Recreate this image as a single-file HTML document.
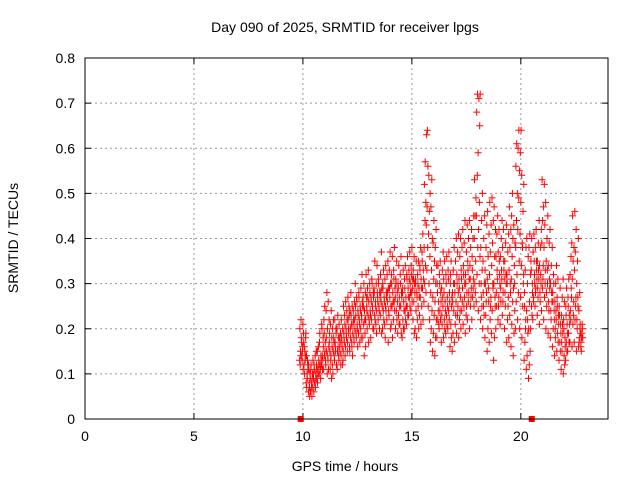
<!DOCTYPE html>
<html><head><meta charset="utf-8"><style>
body{margin:0;background:#fff;}
svg{display:block;font-family:"Liberation Sans",sans-serif;}
</style></head><body>
<svg id="chart" width="640" height="480" viewBox="0 0 640 480">
<text x="345" y="32" font-size="14" text-anchor="middle">Day 090 of 2025, SRMTID for receiver lpgs</text>
<text transform="translate(18,238) rotate(-90)" font-size="14" text-anchor="middle">SRMTID / TECUs</text>
<text x="345" y="471" font-size="14" text-anchor="middle">GPS time / hours</text>
<g id="grid"></g>
<g id="ticks"></g>
<g id="marks"></g>
<rect x="85" y="58" width="523" height="361" fill="none" stroke="#000" stroke-width="1"/>
</svg>
<script>
const xTicks=[0,5,10,15,20];
const yTicks=[0,0.1,0.2,0.3,0.4,0.5,0.6,0.7,0.8];
const yTickLabels=["0","0.1","0.2","0.3","0.4","0.5","0.6","0.7","0.8"];
const binStart=9.9;
const binStep=0.1;
const binValues=[
"13 15 18 20 14 17 12 22","14 16 19 13 21 17 15 11","12 15 18 16 13 19 10 14","8 10 12 14 9 11 7 13","6 8 10 12 7 9 11 5","6 7 9 11 8 10 12 5","7 9 11 13 6 8 10 12","8 10 12 14 9 11 7 15","9 11 13 15 10 12 8 16","10 12 14 17 11 13 19 9",
"12 14 18 21 11 16 20 13","11 14 17 22 25 13 19 15","12 15 20 24 28 14 18 10","13 16 19 26 22 15 11 17","11 14 18 21 24 16 13 9","12 15 17 20 22 14 10 18","13 16 19 22 15 12 17 20","12 15 18 20 23 14 11 16","13 16 19 21 15 12 18 17","14 17 20 22 16 13 18 12",
"15 18 21 25 17 14 19 23","16 19 22 26 18 15 20 24","17 20 23 27 19 16 22 25","15 18 21 24 28 17 20 23","16 19 22 25 21 18 14 24","17 20 23 26 30 19 22 25","18 21 24 27 20 23 26 16","19 22 25 28 21 24 27 17","20 23 26 29 22 25 18 32","18 21 24 27 30 22 25 14",
"19 22 25 28 32 24 16 27","20 23 26 29 33 22 27 17","21 24 27 30 23 26 28 18","22 25 28 31 24 27 30 20","20 23 26 29 35 25 28 22","21 24 27 30 34 26 19 28","22 25 28 31 24 27 30 20","23 26 29 32 37 25 28 19","20 24 27 30 33 26 29 22","21 25 28 31 34 27 18 24",
"22 26 29 32 35 24 28 17","23 27 30 33 37 25 29 20","21 25 28 32 36 26 30 18","22 26 29 33 38 27 31 24","20 24 28 31 35 26 30 22","19 23 27 30 34 25 29 21","21 25 28 32 36 27 30 19","18 22 26 29 33 24 28 20","20 24 27 31 34 25 29 22","21 25 29 32 36 27 31 23",
"23 27 30 33 37 28 31 25","24 28 31 34 38 29 32 26","22 26 30 33 36 28 31 19","20 24 28 31 35 27 30 18","22 25 29 32 35 27 30 20","23 27 31 34 38 29 33 21","25 29 33 37 41 31 35 22","26 30 34 38 44 48 52 57","28 33 38 43 47 56 63 64","25 30 36 41 46 50 54 22",
"17 20 24 28 33 40 47 53","15 19 23 27 31 35 39 44","14 18 22 26 30 34 38 42","18 22 26 30 34 21 28 24","20 24 28 32 35 26 30 22","17 21 25 29 33 37 23 27","18 22 26 31 35 24 28 20","19 23 27 32 36 25 30 21","20 24 28 33 37 26 31 22","16 21 25 30 35 27 32 18",
"15 19 24 28 33 38 26 30","17 21 26 30 35 40 28 23","19 23 28 32 37 41 30 25","18 22 27 31 36 40 29 24","20 24 29 33 38 42 31 26","21 25 30 34 39 44 32 27","19 23 28 32 37 43 30 25","22 26 31 35 40 44 33 28","20 25 29 34 38 42 31 27","22 27 31 36 40 45 33 29",
"25 30 35 40 45 49 53 28","26 32 38 45 54 59 68 72","24 30 36 42 48 72 71 65","22 27 33 38 44 50 30 25","20 25 30 35 40 45 28 23","18 23 28 33 38 43 30 26","15 20 26 31 36 41 46 29","17 22 27 32 37 43 48 25","19 24 29 34 39 44 49 30","13 18 25 30 36 42 47 27",
"20 25 31 36 41 45 28 33","22 27 32 37 42 30 25 35","21 26 31 36 40 44 29 33","23 28 33 38 42 31 26 35","20 25 30 35 39 43 28 32","17 22 27 32 37 41 30 25","18 23 28 33 38 42 47 30","16 21 26 31 36 40 45 50","14 19 24 29 34 39 43 30","20 26 32 38 44 50 56 61",
"22 28 35 42 49 55 60 64","20 27 34 41 48 54 59 64","18 25 32 39 46 52 38 30","13 17 22 28 33 38 25 20","11 14 19 24 30 36 40 22","9 12 15 20 26 32 38 41","20 25 30 35 40 28 33 23","22 27 32 37 41 30 26 35","25 29 33 38 42 31 28 35","23 27 31 35 39 44 29 33",
"21 26 30 34 38 42 28 32","24 29 34 39 44 47 53 31","22 27 33 38 43 48 52 30","20 25 30 35 40 45 28 33","19 24 29 34 39 42 26 31","18 22 26 30 34 38 24 28","16 20 24 28 32 22 26 30","14 18 22 26 30 34 20 24","15 19 23 27 31 21 25 17","13 17 21 25 29 19 23 15",
"11 15 19 23 27 31 17 21","10 14 18 22 26 16 20 12","13 17 21 25 29 19 23 15","15 19 23 27 31 21 25 17","17 22 27 32 36 39 24 29","16 21 26 31 35 38 45 23","17 22 27 33 37 42 46 25","15 20 25 30 35 40 22 27","16 18 21 24 28 19 17 20","16 18 20 17 19 18 15 21"
];
const zeroMarkers=[9.9,20.5];

const L=85,R=608,T=58,B=419,XMAX=24,YMAX=0.8;
const NS="http://www.w3.org/2000/svg";
function xs(v){return L+(R-L)*v/XMAX;}
function ys(v){return B-(B-T)*v/YMAX;}
function mk(tag,attrs,parent){const e=document.createElementNS(NS,tag);for(const k in attrs)e.setAttribute(k,attrs[k]);parent.appendChild(e);return e;}
const grid=document.getElementById('grid'),ticks=document.getElementById('ticks'),marks=document.getElementById('marks');
yTicks.forEach((v,i)=>{
  const y=ys(v);
  if(i>0&&i<yTicks.length-1){const g=mk('line',{x1:L,x2:R,y1:y,y2:y,stroke:'#999','stroke-dasharray':'2,3'},grid);
  
  }
  mk('line',{x1:L,x2:L+6,y1:y,y2:y,stroke:'#000'},ticks);
  mk('line',{x1:R,x2:R-6,y1:y,y2:y,stroke:'#000'},ticks);
  const t=mk('text',{x:L-10,y:y+5,'font-size':'14','text-anchor':'end'},ticks);
  t.textContent=yTickLabels[i];
  
  
});
xTicks.forEach(v=>{
  const x=xs(v);
  if(v>0){const g=mk('line',{x1:x,x2:x,y1:T,y2:B,stroke:'#999','stroke-dasharray':'2,3'},grid);
  
  }
  mk('line',{x1:x,x2:x,y1:B,y2:B-6,stroke:'#000'},ticks);
  mk('line',{x1:x,x2:x,y1:T,y2:T+6,stroke:'#000'},ticks);
  const t=mk('text',{x:x,y:B+22,'font-size':'14','text-anchor':'middle'},ticks);
  t.textContent=String(v);
  
  
});
let d='';
binValues.forEach((s,i)=>{
  const vals=s.split(' ').map(Number);
  vals.forEach((v,j)=>{
    const k=(j*3)%vals.length;
    const x=xs(binStart+binStep*i+binStep*(k/vals.length-0.5)),y=ys(v/100);
    d+='M'+(x-3.5).toFixed(1)+' '+y.toFixed(1)+'h7M'+x.toFixed(1)+' '+(y-3.5).toFixed(1)+'v7';
  });
});
const p=mk('path',{d:d,stroke:'#f00','stroke-width':'1',fill:'none'},marks);


zeroMarkers.forEach(v=>{
  const r=mk('rect',{x:xs(v)-3,y:B-3,width:6,height:6,fill:'#f00'},marks);
  
  
});
</script>
</body></html>
